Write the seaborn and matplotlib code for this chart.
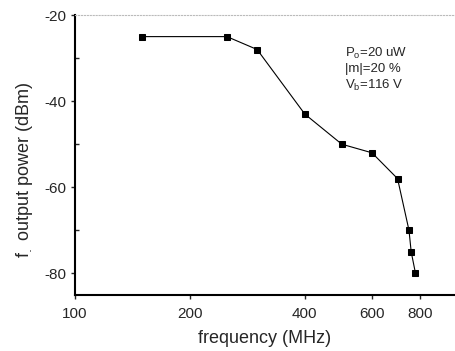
import matplotlib
matplotlib.use('Agg')
import matplotlib.pyplot as plt
import seaborn as sns
import pandas as pd
from matplotlib.ticker import FixedLocator, NullFormatter, NullLocator

# Data
freq_mhz = [150, 250, 300, 400, 500, 600, 700, 750, 760, 780]
power_dbm = [-25, -25, -28, -43, -50, -52, -58, -70, -75, -80]
x_ticks = [100, 200, 400, 600, 800]
y_ticks = [-80, -60, -40, -20]

df = pd.DataFrame({'freq': freq_mhz, 'power': power_dbm})

sns.set_style('white')
plt.rcParams['font.family'] = ['Liberation Sans', 'DejaVu Sans']
plt.rcParams['axes.unicode_minus'] = False

fig = plt.figure(figsize=(4.55, 3.51), dpi=100)
ax = fig.add_axes([0.165, 0.16, 0.835, 0.797])

sns.lineplot(data=df, x='freq', y='power', marker='s', color='black',
             linewidth=0.8, markersize=5, markeredgecolor='black', ax=ax)

ax.set_xscale('log')
ax.set_xlim(100, 990)
ax.set_ylim(-85, -20)
ax.xaxis.set_major_locator(FixedLocator(x_ticks))
ax.xaxis.set_minor_locator(NullLocator())
ax.set_xticklabels([str(t) for t in x_ticks])
ax.xaxis.set_minor_formatter(NullFormatter())
ax.set_yticks(y_ticks)
ax.set_yticks([-70, -50, -30], minor=True)

ax.tick_params(axis='both', which='major', direction='out', length=3, width=1,
               labelsize=11, bottom=True, left=True)
ax.tick_params(axis='x', which='major', pad=6)
ax.tick_params(axis='y', which='minor', direction='in', length=3, width=1, left=True)

ax.spines['right'].set_visible(False)
ax.spines['top'].set_color('#bbbbbb')
ax.spines['top'].set_linestyle(':')
ax.spines['top'].set_linewidth(0.8)
ax.spines['left'].set_linewidth(1.5)
ax.spines['bottom'].set_linewidth(1.5)
ax.spines['left'].set_color('black')
ax.spines['bottom'].set_color('black')

ax.set_xlabel('frequency (MHz)', fontsize=13, labelpad=6)
ax.set_ylabel(r'f$_{.}$ output power (dBm)', fontsize=13)
ax.yaxis.set_label_coords(-0.105, 0.445)

ax.text(0.71, 0.89, 'P$_{\\mathregular{o}}$=20 uW\n|m|=20 %\nV$_{\\mathregular{b}}$=116 V',
        transform=ax.transAxes, fontsize=9.5, va='top', ha='left', linespacing=1.25)

fig.savefig('out.png', dpi=100)
